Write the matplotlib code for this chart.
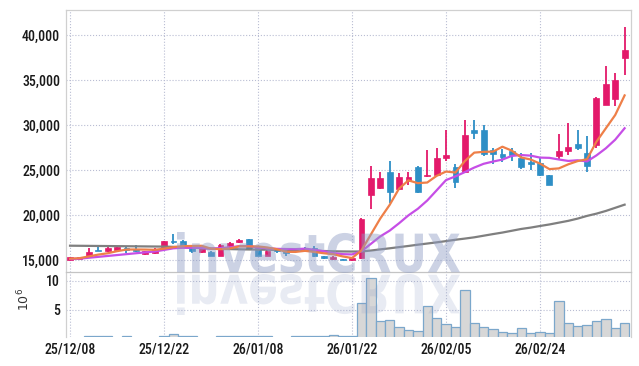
import matplotlib
matplotlib.use('Agg')
import matplotlib.pyplot as plt
from matplotlib import font_manager
from matplotlib.font_manager import FontProperties
from matplotlib.textpath import TextPath
from matplotlib.patches import PathPatch
from matplotlib.transforms import Affine2D
from matplotlib.ticker import FuncFormatter

# daily candles, 25/12/08 .. 26/03
opens = [14950, 15150, 15300, 16150, 15950, 16150, 16350, 16200, 15650, 15800,
         16450, 17100, 17150, 16300, 15850, 15900, 15500, 16550, 16950, 17330,
         16350, 15450, 16100, 15950, 16050, 16300, 16350, 15450, 15150, 15100,
         14950, 15200, 22200, 23050, 24750, 22900, 23750, 25350, 24350, 24500,
         26300, 25300, 24800, 29450, 29450, 27200, 26800, 27100, 26300, 25850,
         25800, 24450, 26600, 27150, 27900, 26850, 27800, 32250, 32850, 37500]
highs = [15350, 15300, 16350, 16450, 16500, 16550, 16450, 16650, 16000, 16350,
         17150, 17850, 17200, 16450, 16450, 16000, 16750, 17050, 17300, 17350,
         16450, 16100, 16150, 16000, 16350, 16400, 16550, 15500, 15450, 15150,
         15250, 19650, 25400, 24800, 26000, 24700, 24800, 25450, 27200, 27400,
         29400, 25650, 30600, 30600, 30000, 27500, 27300, 27400, 26850, 26850,
         26400, 24500, 28950, 30200, 29500, 28800, 33100, 36550, 35750, 40850]
lows = [14900, 15050, 15250, 15950, 15900, 16100, 15800, 15900, 15600, 15650,
        16400, 16800, 16450, 15800, 15800, 15450, 15450, 16500, 16900, 16200,
        15450, 15400, 15800, 15500, 15900, 15950, 15350, 15100, 14950, 14950,
        14900, 15100, 20650, 22850, 21300, 22800, 23300, 22400, 24200, 24400,
        25950, 22950, 24700, 28450, 26600, 25700, 25900, 26000, 25100, 25000,
        24300, 23300, 26100, 26650, 27200, 24800, 27400, 32200, 32100, 35550]
closes = [15300, 15250, 15900, 16000, 16350, 16450, 16100, 15950, 15950, 16200,
          17100, 16950, 16500, 16050, 16300, 15500, 16650, 16900, 17250, 16250,
          15500, 16050, 15950, 15800, 16200, 16080, 15400, 15250, 15250, 15000,
          15200, 19600, 24100, 24100, 22600, 24250, 24200, 22550, 24450, 26300,
          26650, 23650, 28900, 29150, 26750, 26750, 26400, 26700, 25350, 25650,
          24450, 23350, 27100, 27600, 27450, 25500, 33050, 34550, 35000, 38350]
volumes = [0.2, 0.2, 0.6, 0.45, 0.45, 0.2, 0.45, 0.2, 0.2, 0.2,
           0.6, 0.8, 0.45, 0.45, 0.2, 0.2, 0.45, 0.45, 0.45, 0.45,
           0.45, 0.45, 0.2, 0.2, 0.45, 0.45, 0.6, 0.45, 0.65, 0.45,
           0.45, 6.15, 10.45, 3.1, 3.3, 2.0, 1.5, 1.35, 5.7, 3.55,
           2.5, 2.0, 8.4, 2.7, 2.1, 1.65, 1.15, 0.98, 1.85, 0.98,
           1.15, 0.98, 6.55, 2.7, 2.2, 2.35, 3.05, 3.4, 1.85, 2.7]
ma5 = [15150, 15200, 15400, 15600, 15750, 15980, 16160, 16170, 16160, 16130,
       16260, 16430, 16540, 16560, 16580, 16260, 16200, 16280, 16520, 16510,
       16510, 16390, 16200, 15910, 15900, 16020, 15890, 15750, 15640, 15400,
       15220, 16060, 17830, 19600, 21120, 22930, 23850, 23540, 23610, 24350,
       24830, 24720, 25990, 26930, 27020, 27040, 27590, 27150, 26390, 26170,
       25710, 25100, 25180, 25630, 25990, 26200, 28140, 29630, 31110, 33290]
ma10 = [15100, 15150, 15250, 15350, 15450, 15550, 15650, 15750, 15850, 15940,
        16120, 16300, 16360, 16360, 16360, 16260, 16320, 16410, 16540, 16550,
        16390, 16300, 16240, 16220, 16210, 16260, 16140, 15970, 15770, 15650,
        15620, 15970, 16790, 17620, 18260, 19080, 19960, 20690, 21610, 22740,
        23880, 24290, 24770, 25270, 25690, 25940, 26160, 26570, 26660, 26600,
        26380, 26350, 26170, 26010, 26080, 25960, 26620, 27410, 28370, 29640]
ma_long = [16590, 16580, 16570, 16560, 16550, 16540, 16530, 16520, 16510, 16500,
           16490, 16460, 16420, 16370, 16320, 16270, 16230, 16210, 16190, 16170,
           16160, 16140, 16120, 16100, 16080, 16060, 16030, 16000, 15970, 15950,
           15940, 15950, 16050, 16180, 16300, 16430, 16560, 16700, 16830, 16960,
           17100, 17250, 17380, 17520, 17700, 17880, 18050, 18250, 18450, 18600,
           18780, 18950, 19150, 19350, 19600, 19900, 20150, 20450, 20800, 21150]
tick_pos = [0, 10, 20, 30, 40, 50]
tick_dates = ['25/12/08', '25/12/22', '26/01/08', '26/01/22', '26/02/05', '26/02/24']
price_ticks = [15000, 20000, 25000, 30000, 35000, 40000]
vol_ticks = [5, 10]

# narrow font if we have one
names = {f.name for f in font_manager.fontManager.ttflist}
font, fsize = 'DejaVu Sans', 8
for fam, size in [('Liberation Sans Narrow', 10.5), ('Roboto Condensed', 10), ('Roboto', 9.5)]:
    if fam in names:
        font, fsize = fam, size
        break
plt.rcParams['font.family'] = [font, 'DejaVu Sans']
plt.rcParams['font.weight'] = 'medium'

W, H = 639, 366
fig = plt.figure(figsize=(W / 100, H / 100), dpi=100)
ax = fig.add_axes([66 / W, 1 - 272 / H, 565 / W, 262 / H])
axv = fig.add_axes([66 / W, 1 - 337 / H, 565 / W, 65 / H], sharex=ax)

x = list(range(len(closes)))
cols = ['#e3196a' if c >= o else '#2e8fc6' for o, c in zip(opens, closes)]
bottoms = [min(o, c) for o, c in zip(opens, closes)]
heights = [max(abs(c - o), 130) for o, c in zip(opens, closes)]

ax.vlines(x, lows, highs, colors=cols, lw=1.3, zorder=3)
ax.bar(x, heights, bottom=bottoms, width=0.62, color=cols, edgecolor=cols, lw=0.5, zorder=3)
ax.plot(x, ma_long, color='#7f7f7f', lw=1.6, zorder=4)
ax.plot(x, ma10, color='#c64ee6', lw=1.6, zorder=4)
ax.plot(x, ma5, color='#ee7f48', lw=1.6, zorder=5)

axv.bar(x, volumes, width=1.0, color='#d7d7d7', edgecolor='#7ba7cb', lw=0.9, zorder=3)

ax.set_xlim(-0.43, 59.68)
ax.set_ylim(13667, 42780)
axv.set_ylim(0.345, 11.55)

ax.set_yticks(price_ticks)
ax.yaxis.set_major_formatter(FuncFormatter(lambda v, p: f'{v:,.0f}'))
axv.set_yticks(vol_ticks)
axv.set_yticklabels([str(v) for v in vol_ticks])
axv.set_xticks(tick_pos)
axv.set_xticklabels(tick_dates)

for a in (ax, axv):
    a.grid(True, ls=':', color='#b9bdd3', lw=0.8)
    a.set_axisbelow(True)
    a.tick_params(length=0, pad=4.3, labelsize=fsize, colors='#1a1a1a')
    for s in a.spines.values():
        s.set_color('#d0d0d0')
        s.set_linewidth(0.9)
ax.tick_params(labelbottom=False)
ax.spines['bottom'].set_visible(False)
axv.spines['top'].set_color('#c4c4c4')
axv.spines['bottom'].set_visible(False)

axv.set_ylabel(r'$10^6$', fontsize=9, color='#333333')
axv.yaxis.set_label_coords(-0.06, 0.57)

# watermark + reflection
ov = fig.add_axes([0, 0, 1, 1], zorder=10)
ov.set_xlim(0, W)
ov.set_ylim(H, 0)
ov.axis('off')
tp = TextPath((0, 0), 'investCRUX', size=100, prop=FontProperties(family='DejaVu Sans', weight='bold'))
ext = tp.get_extents()
sx = (460 - 177) / ext.width
sy = (273 - 232) / ext.height
up_tr = Affine2D().translate(-ext.x0, -ext.y0).scale(sx, -sy).translate(177, 273)
dn_tr = Affine2D().translate(-ext.x0, -ext.y0).scale(sx, sy).translate(177, 274)
ov.add_patch(PathPatch(up_tr.transform_path(tp), fc='#8e9cc4', ec='none', alpha=0.45))
ov.add_patch(PathPatch(dn_tr.transform_path(tp), fc='#8e9cc4', ec='none', alpha=0.2))

fig.savefig('out.png', dpi=100)
